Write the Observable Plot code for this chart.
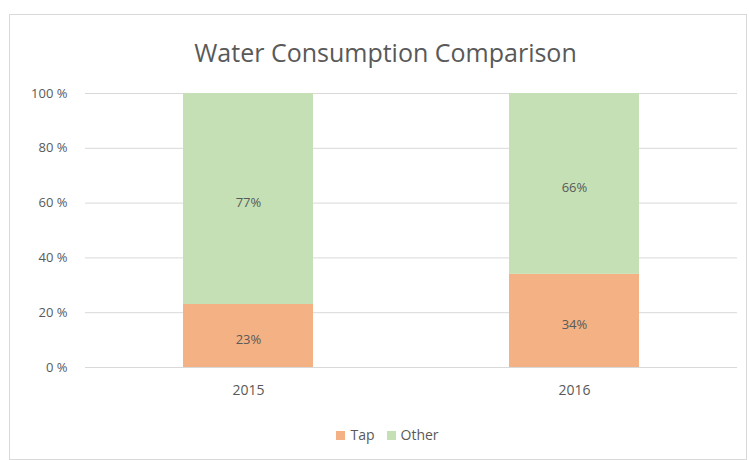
<!DOCTYPE html>
<html>
<head>
<meta charset="utf-8">
<script src="https://cdn.jsdelivr.net/npm/d3@7"></script>
<script src="https://cdn.jsdelivr.net/npm/@observablehq/plot@0.6"></script>
<style>
  body { margin: 0; background: #fff; font-family: "Open Sans", "DejaVu Sans", sans-serif; }
  #page { position: relative; width: 749px; height: 460px; overflow: hidden; }
  #frame { position: absolute; left: 9px; top: 14px; width: 738px; height: 446px; border: 1px solid #d9d9d9; box-sizing: border-box; }
  #title { position: absolute; left: 0; width: 771px; top: 40px; line-height: 1; text-align: center; font-size: 25px; color: #595959; white-space: nowrap; }
  #chart { position: absolute; left: 0; top: 75px; }
  #legend { position: absolute; top: 425px; left: 0; width: 775px; text-align: center; font-size: 14px; color: #595959; }
  .sw { display: inline-block; width: 9px; height: 9px; margin-right: 5px; vertical-align: 0px; }
  .item { margin: 0 6px; }
</style>
</head>
<body>
<div id="page">
  <div id="frame"></div>
  <div id="title">Water Consumption Comparison</div>
  <div id="chart"></div>
  <div id="legend"></div>
</div>
<script>
const years = ["2015", "2016"];
const seriesNames = ["Tap", "Other"];
const tapValues = [23, 34];
const otherValues = [77, 66];
const yTicks = [0, 20, 40, 60, 80, 100];
const colors = ["#F4B183", "#C5E0B4"];

const rows = [];
years.forEach((y, i) => {
  rows.push({year: y, series: "Tap", value: tapValues[i]});
  rows.push({year: y, series: "Other", value: otherValues[i]});
});

const chart = Plot.plot({
  width: 749,
  height: 330,
  marginTop: 18,
  marginBottom: 38,
  marginLeft: 85,
  marginRight: 12,
  style: {fontFamily: "'Open Sans', sans-serif", fontSize: "13px", color: "#595959"},
  x: {domain: years, paddingInner: 0.6, paddingOuter: 0.3, label: null},
  y: {domain: [0, 100], label: null},
  color: {domain: seriesNames, range: colors},
  marks: [
    Plot.gridY(yTicks, {stroke: "#d9d9d9", strokeOpacity: 1, strokeWidth: 1}),
    Plot.barY(rows, Plot.stackY({x: "year", y: "value", fill: "series", order: seriesNames})),
    Plot.text(rows, Plot.stackY({x: "year", y: "value", z: "series", order: seriesNames, text: d => d.value + "%", fill: "#595959", fontSize: 13, dy: 4})),
    Plot.axisX({tickSize: 0, tickPadding: 18, fontSize: 14}),
    Plot.axisY({ticks: yTicks, tickSize: 0, tickPadding: 18, tickFormat: d => d + " %", fontSize: 13})
  ]
});
document.getElementById("chart").appendChild(chart);

const legend = document.getElementById("legend");
seriesNames.forEach((s, i) => {
  const span = document.createElement("span");
  span.className = "item";
  span.innerHTML = `<span class="sw" style="background:${colors[i]}"></span>${s}`;
  legend.appendChild(span);
});
</script>
</body>
</html>
